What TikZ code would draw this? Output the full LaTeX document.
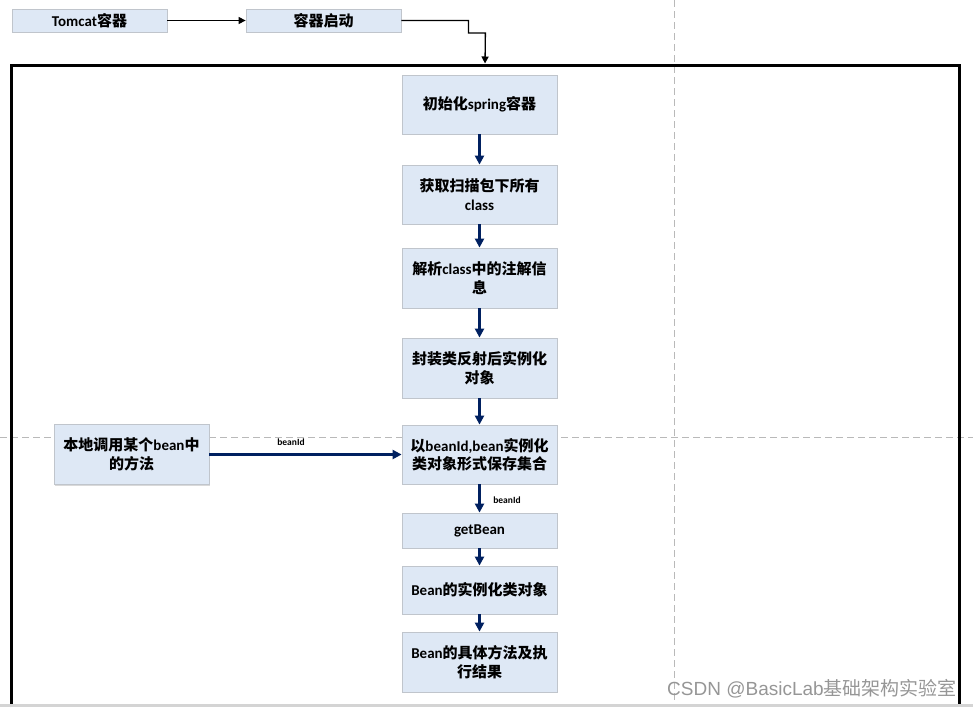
\documentclass[tikz,border=0pt]{standalone}
\usepackage{fontspec}
\setmainfont{Carlito}
\newfontfamily\cjkfont{Noto Sans CJK SC}
\newfontfamily\wmfont{Liberation Sans}
\usetikzlibrary{arrows.meta,shadows}
\definecolor{boxfill}{RGB}{222,232,245}
\definecolor{boxline}{RGB}{192,197,204}
\definecolor{flowblue}{RGB}{0,32,96}
\definecolor{guide}{RGB}{185,185,185}
\definecolor{markgray}{RGB}{150,150,150}
\newcommand{\zh}[1]{{\cjkfont #1}}
\tikzset{
  box/.style={draw=boxline, fill=boxfill, line width=0.8pt, minimum width=155pt,
    inner sep=0pt, align=center, font=\fontsize{15}{18.5}\selectfont\bfseries,
    drop shadow={shadow xshift=1pt, shadow yshift=-1pt, fill=black!15, opacity=1}},
  flow/.style={flowblue, line width=2.2pt, -{Triangle[width=9pt,length=9pt]}},
  link/.style={black, line width=1.3pt, -{Triangle[width=7pt,length=7pt]}},
  tag/.style={font=\fontsize{9.5}{11}\selectfont\bfseries},
  pageline/.style={guide, line width=0.8pt, dash pattern=on 7pt off 4pt}
}
\begin{document}
\begin{tikzpicture}[x=1pt,y=-1pt]
\useasboundingbox (0,0) rectangle (973,707);
% page guides
\draw[pageline] (674,0) -- (674,707);
\draw[pageline] (0,437) -- (973,437);
% frame
\draw[line width=3pt] (11,707) -- (11,65) -- (959,65) -- (959,707);
\coordinate (entry) at (485,63.5);
% top row
\node[box, minimum height=23pt] (tomcat) at (89.5,20.5) {Tomcat\zh{容器}};
\node[box, minimum height=23pt] (start) at (323.5,20.5) {\zh{容器启动}};
% main chain
\node[box, minimum height=59pt] (box0) at (479.5,104.5) {\zh{初始化}spring\zh{容器}};
\node[box, minimum height=59pt] (box1) at (479.5,194.5) {\zh{获取扫描包下所有}\\class};
\node[box, minimum height=60pt] (box2) at (479.5,278) {\zh{解析}class\zh{中的注解信}\\\zh{息}};
\node[box, minimum height=60pt] (box3) at (479.5,368) {\zh{封装类反射后实例化}\\\zh{对象}};
\node[box, minimum height=59pt] (box4) at (479.5,454.5) {\zh{以}beanId,bean\zh{实例化}\\\zh{类对象形式保存集合}};
\node[box, minimum height=35pt] (box5) at (479.5,530.5) {getBean};
\node[box, minimum height=48pt] (box6) at (479.5,590) {Bean\zh{的实例化类对象}};
\node[box, minimum height=60pt] (box7) at (479.5,662) {Bean\zh{的具体方法及执}\\\zh{行结果}};
\node[box, minimum height=60pt] (local) at (131.5,454.5) {\zh{本地调用某个}bean\zh{中}\\\zh{的方法}};
% connectors
\draw[link] (tomcat) -- (start);
\draw[link] (start.east) -- ++(67,0) -- ++(0,12.5) -- ++(17,0) -- (entry);
\draw[flow] (box0) -- (box1);
\draw[flow] (box1) -- (box2);
\draw[flow] (box2) -- (box3);
\draw[flow] (box3) -- (box4);
\draw[flow] (box4) -- (box5);
\draw[flow] (box5) -- (box6);
\draw[flow] (box6) -- (box7);
\draw[flow] (local) -- (box4);
\node[tag] (id0) at (291,442) {beanId};
\node[tag] (id1) at (507,500) {beanId};
% watermark and bottom strip
\node[markgray, font=\fontsize{19}{21}\selectfont\wmfont] (mark) at (812,689) {CSDN @BasicLab\zh{基础架构实验室}};
\fill[black!17] (0,704) rectangle (973,707);
\end{tikzpicture}
\end{document}
